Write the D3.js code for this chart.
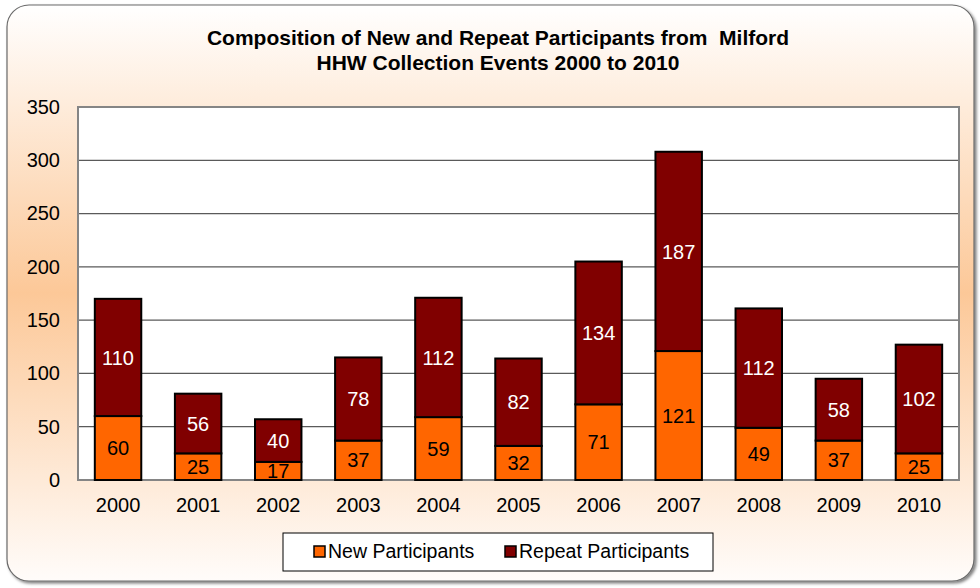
<!DOCTYPE html>
<html><head><meta charset="utf-8">
<script src="https://cdn.jsdelivr.net/npm/d3@7/dist/d3.min.js"></script>
<style>body{margin:0;background:#fff}svg{display:block}text{font-family:"Liberation Sans",Arial,sans-serif}</style>
</head><body>
<svg id="c" width="980" height="588"></svg>
<script>
const years = ["2000","2001","2002","2003","2004","2005","2006","2007","2008","2009","2010"];
const newParticipants = [60,25,17,37,59,32,71,121,49,37,25];
const repeatParticipants = [110,56,40,78,112,82,134,187,112,58,102];
const seriesNames = ["New Participants","Repeat Participants"];
const yTicks = [0,50,100,150,200,250,300,350];
const titleLines = ["Composition of New and Repeat Participants from  Milford","HHW Collection Events 2000 to 2010"];

const svg = d3.select("#c");
const defs = svg.append("defs");
const g1 = defs.append("linearGradient").attr("id","bg").attr("x1",0).attr("y1",0).attr("x2",0).attr("y2",1);
g1.append("stop").attr("offset","0%").attr("stop-color","#ffffff");
g1.append("stop").attr("offset","50%").attr("stop-color","#fcc898");
g1.append("stop").attr("offset","100%").attr("stop-color","#fffcfa");
const f = defs.append("filter").attr("id","sh").attr("x","-5%").attr("y","-5%").attr("width","110%").attr("height","110%");
f.append("feDropShadow").attr("dx",2).attr("dy",2).attr("stdDeviation",1.5).attr("flood-color","#000").attr("flood-opacity",0.5);

svg.append("rect").attr("x",7).attr("y",5).attr("width",967).attr("height",576).attr("rx",22).attr("ry",22)
  .attr("fill","url(#bg)").attr("stroke","#6a6a6a").attr("stroke-width",1.2).attr("filter","url(#sh)");

const m = {left:78, right:959, top:107, bottom:480};
const x = d3.scaleBand().domain(years).range([m.left, m.right]).paddingInner(0.42).paddingOuter(0.21);
const y = d3.scaleLinear().domain([0,350]).range([m.bottom, m.top]);

svg.append("rect").attr("x",m.left).attr("y",m.top).attr("width",m.right-m.left).attr("height",m.bottom-m.top).attr("fill","#fff");

// grid
svg.append("g").selectAll("line").data(yTicks.filter(d=>d>0)).join("line")
  .attr("x1",m.left).attr("x2",m.right).attr("y1",d=>y(d)).attr("y2",d=>y(d))
  .attr("stroke","#5a5a5a").attr("stroke-width",1.2);

// plot border
svg.append("rect").attr("x",m.left).attr("y",m.top).attr("width",m.right-m.left).attr("height",m.bottom-m.top)
  .attr("fill","none").attr("stroke","#858585").attr("stroke-width",2);

// y axis
const ya = d3.axisLeft(y).tickValues(yTicks).tickSize(0).tickPadding(18);
svg.append("g").attr("transform",`translate(${m.left},0)`).call(ya)
  .call(g=>g.select(".domain").remove())
  .selectAll("text").attr("font-size",20).attr("fill","#000").attr("font-family","Liberation Sans, Arial, sans-serif");

// x axis
const xa = d3.axisBottom(x).tickSize(0).tickPadding(18);
svg.append("g").attr("transform",`translate(0,${m.bottom})`).call(xa)
  .call(g=>g.select(".domain").remove())
  .selectAll("text").attr("font-size",20).attr("fill","#000").attr("font-family","Liberation Sans, Arial, sans-serif");

// stacked bars
const rows = years.map((yr,i)=>({year:yr, n:newParticipants[i], r:repeatParticipants[i]}));
const stack = d3.stack().keys(["n","r"])(rows);
const colors = ["#ff6600","#800000"];
const labColors = ["#000","#fff"];
stack.forEach((layer,li)=>{
  const g = svg.append("g");
  g.selectAll("rect").data(layer).join("rect")
    .attr("x",d=>x(d.data.year)).attr("width",x.bandwidth())
    .attr("y",d=>y(d[1])).attr("height",d=>y(d[0])-y(d[1]))
    .attr("fill",colors[li]).attr("stroke","#000").attr("stroke-width",2);
  g.selectAll("text").data(layer).join("text")
    .attr("x",d=>x(d.data.year)+x.bandwidth()/2)
    .attr("y",d=>(y(d[0])+y(d[1]))/2)
    .attr("dy","0.36em").attr("text-anchor","middle").attr("font-size",20)
    .attr("fill",labColors[li]).text(d=>d[1]-d[0]);
});

// title
svg.append("text").attr("x",498).attr("text-anchor","middle").attr("font-weight","bold").attr("font-size",21)
  .style("white-space","pre")
  .selectAll("tspan").data(titleLines).join("tspan").attr("x",498).attr("y",(d,i)=>45+i*25).text(d=>d);

// legend
const lg = svg.append("g");
lg.append("rect").attr("x",283).attr("y",533).attr("width",430).attr("height",38).attr("fill","#fff").attr("stroke","#000").attr("stroke-width",1);
const lx = [314,505];
seriesNames.forEach((s,i)=>{
  lg.append("rect").attr("x",lx[i]).attr("y",546).attr("width",11).attr("height",11).attr("fill",colors[i]).attr("stroke","#000").attr("stroke-width",1.5);
  lg.append("text").attr("x",lx[i]+14).attr("y",558).attr("font-size",19.5).attr("fill","#000").text(s);
});
</script>
</body></html>
